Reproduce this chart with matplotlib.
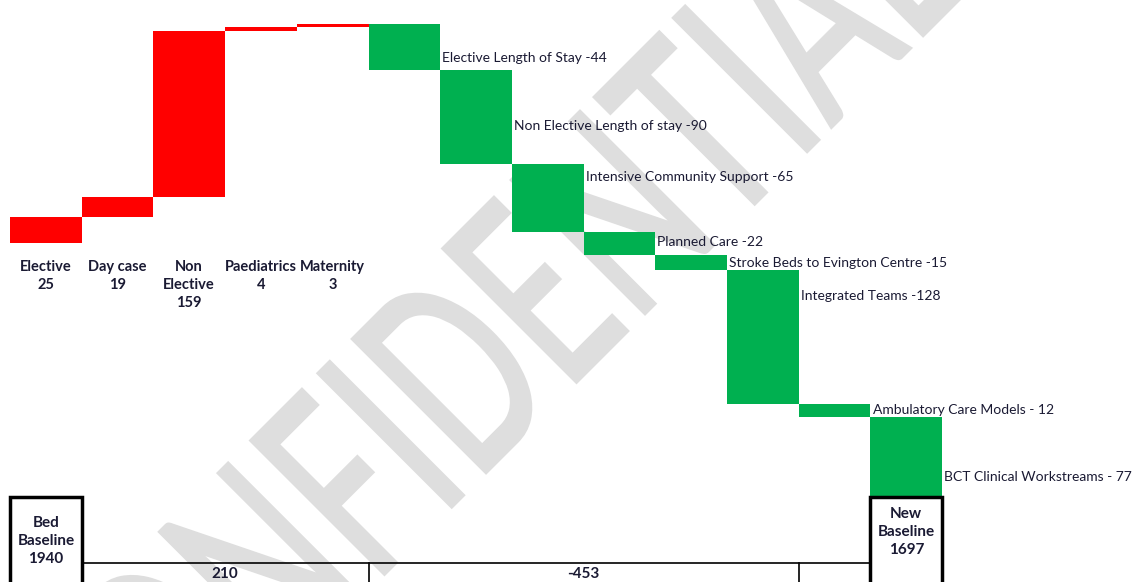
import matplotlib.pyplot as plt
from matplotlib.font_manager import FontProperties
from matplotlib.patches import PathPatch
from matplotlib.textpath import TextPath
from matplotlib.transforms import Affine2D, blended_transform_factory

plt.rcParams['font.family'] = ['Lato', 'DejaVu Sans']

# Data
start_label = 'Bed\nBaseline'
start_value = 1940
increase_labels = ['Elective', 'Day case', 'Non\nElective', 'Paediatrics', 'Maternity']
increase_values = [25, 19, 159, 4, 3]
decrease_labels = ['Elective Length of Stay -', 'Non Elective Length of stay -',
                   'Intensive Community Support -', 'Planned Care -',
                   'Stroke Beds to Evington Centre -', 'Integrated Teams -',
                   'Ambulatory Care Models - ', 'BCT Clinical Workstreams - ']
decrease_values = [-44, -90, -65, -22, -15, -128, -12, -77]
end_label = 'New\nBaseline'

# where each green label sits, as fraction down its bar
label_frac = [0.73, 0.6, 0.2, 0.45, 0.5, 0.19, 0.5, 0.75]

RED = '#ff0000'
GREEN = '#00b050'
TXT = '#1a1a33'

total_up = sum(increase_values)
total_down = sum(decrease_values)
end_value = start_value + total_up + total_down
peak = start_value + total_up

W, H = 1138, 582
fig = plt.figure(figsize=(W / 100, H / 100), dpi=100)
ax = fig.add_axes([0, 0, 1, 1])
ax.axis('off')
ax.patch.set_alpha(0)

# axis ranges chosen so the peak sits near the top and the new baseline at the boxes
col_px = 71.7
ppu = (497 - 24) / (peak - end_value)
ax.set_xlim(-10 / col_px, (W - 10) / col_px)
ax.set_ylim(peak - (H - 24) / ppu, peak + 24 / ppu)
ylo = ax.get_ylim()[0]

# watermark
fp = FontProperties(family='Lato', weight=600)
tp = TextPath((0, 0), 'CONFIDENTIAL', size=1, prop=fp)
ext = tp.get_extents()
wm = Affine2D().translate(-(ext.x0 + ext.x1) / 2, -(ext.y0 + ext.y1) / 2) \
    .scale(2.67 * 0.63, 2.67).rotate_deg(45).translate(4.75, (H - 350) / 100)
patch = PathPatch(tp, transform=wm + fig.dpi_scale_trans, facecolor='#dedede',
                  edgecolor='none', zorder=-5)
fig.add_artist(patch)

# increases
level = start_value
for i, (lab, v) in enumerate(zip(increase_labels, increase_values)):
    ax.bar(i, v, bottom=level, width=1, align='edge', color=RED, zorder=2)
    ax.annotate(f'{lab}\n{v}', xy=(i + 0.5, start_value), xytext=(0, -12),
                textcoords='offset points', ha='center', va='top',
                fontsize=10.5, fontweight='bold', color=TXT, linespacing=1.35)
    level += v

# decreases
n_up = len(increase_values)
for j, (lab, v) in enumerate(zip(decrease_labels, decrease_values)):
    x = n_up + j
    ax.bar(x, -v, bottom=level + v, width=1, align='edge', color=GREEN, zorder=2)
    ax.text(x + 1.03, level + v * label_frac[j], f'{lab}{abs(v)}',
            ha='left', va='center', fontsize=10, color=TXT, zorder=3)
    level += v

# baseline boxes
last = n_up + len(decrease_values) - 1
for x in (0, last):
    ax.bar(x, end_value - ylo + 20, bottom=ylo - 20, width=1, align='edge',
           facecolor='white', edgecolor='black', linewidth=2.5, zorder=4)

bt = blended_transform_factory(ax.transData, ax.transAxes)
ax.text(0.5, 0.070, f'{start_label}\n{start_value}', transform=bt, ha='center',
        va='center', fontsize=11, fontweight='bold', color=TXT, linespacing=1.35, zorder=5)
ax.text(last + 0.5, 0.086, f'{end_label}\n{end_value}', transform=bt, ha='center',
        va='center', fontsize=11, fontweight='bold', color=TXT, linespacing=1.35, zorder=5)

# summary row
row_y = 1 - 563 / H
ax.plot([1, last], [row_y, row_y], transform=bt, color='black', lw=1.2, zorder=3)
for x in (n_up, last - 1):
    ax.plot([x, x], [0, row_y], transform=bt, color='black', lw=1.2, zorder=3)
ax.text((1 + n_up) / 2, 0.014, f'{total_up}', transform=bt, ha='center', va='center',
        fontsize=11, fontweight='bold', color=TXT)
ax.text((n_up + last - 1) / 2, 0.014, f'{total_down}', transform=bt, ha='center',
        va='center', fontsize=11, fontweight='bold', color=TXT)

fig.savefig('out.png', dpi=100)
